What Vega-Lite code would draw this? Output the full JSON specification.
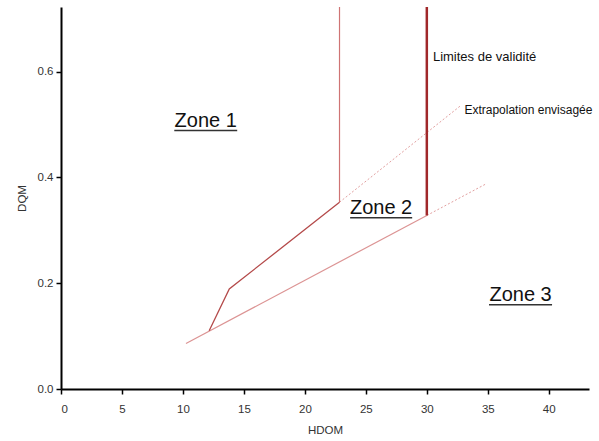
{
  "$schema": "https://vega.github.io/schema/vega-lite/v6.json",
  "width": 528,
  "height": 382,
  "padding": {"left": 61, "top": 7, "right": 10, "bottom": 52},
  "autosize": {"type": "none"},
  "background": "white",
  "config": {
    "view": {"stroke": null},
    "font": "Liberation Sans",
    "axis": {
      "grid": false,
      "domainColor": "#000",
      "domainWidth": 2,
      "tickColor": "#000",
      "tickWidth": 1.5,
      "tickSize": 5,
      "labelFont": "Liberation Sans",
      "labelFontSize": 11.5,
      "labelColor": "#333",
      "titleFont": "Liberation Sans",
      "titleFontSize": 11.5,
      "titleFontWeight": "normal",
      "titleColor": "#333"
    }
  },
  "datasets": {
    "lines": [
      {"series": "upper", "o": 1, "HDOM": 12.15, "DQM": 0.110},
      {"series": "upper", "o": 2, "HDOM": 13.8, "DQM": 0.189},
      {"series": "upper", "o": 3, "HDOM": 22.84, "DQM": 0.353},
      {"series": "vert1", "o": 1, "HDOM": 22.84, "DQM": 0.353},
      {"series": "vert1", "o": 2, "HDOM": 22.84, "DQM": 0.722},
      {"series": "lower", "o": 1, "HDOM": 10.25, "DQM": 0.086},
      {"series": "lower", "o": 2, "HDOM": 30.0, "DQM": 0.328},
      {"series": "limit", "o": 1, "HDOM": 30.0, "DQM": 0.328},
      {"series": "limit", "o": 2, "HDOM": 30.0, "DQM": 0.722},
      {"series": "ext_up", "o": 1, "HDOM": 22.84, "DQM": 0.353},
      {"series": "ext_up", "o": 2, "HDOM": 32.8, "DQM": 0.536},
      {"series": "ext_low", "o": 1, "HDOM": 30.0, "DQM": 0.328},
      {"series": "ext_low", "o": 2, "HDOM": 34.8, "DQM": 0.387}
    ],
    "zones": [
      {"label": "Zone 1", "HDOM": 11.87, "DQM": 0.496, "x1": 9.29, "x2": 14.45},
      {"label": "Zone 2", "HDOM": 26.25, "DQM": 0.331, "x1": 23.71, "x2": 28.8},
      {"label": "Zone 3", "HDOM": 37.69, "DQM": 0.167, "x1": 35.1, "x2": 40.27}
    ],
    "notes": [
      {"label": "Limites de validité", "HDOM": 30.5, "DQM": 0.619},
      {"label": "Extrapolation envisagée", "HDOM": 33.08, "DQM": 0.52}
    ],
    "frame": [{"HDOM": 43.3}]
  },
  "encoding": {
    "x": {"field": "HDOM", "type": "quantitative", "scale": {"domain": [0, 43.3], "nice": false, "zero": false},
      "axis": {"values": [0, 5, 10, 15, 20, 25, 30, 35, 40], "title": "HDOM", "labelPadding": 9, "titlePadding": 10}},
    "y": {"field": "DQM", "type": "quantitative", "scale": {"domain": [0, 0.722], "nice": false, "zero": false},
      "axis": {"values": [0, 0.2, 0.4, 0.6], "format": ".1f", "title": "DQM", "labelPadding": 3, "titlePadding": 10}}
  },
  "layer": [
    {
      "data": {"name": "frame"},
      "mark": {"type": "rule", "color": "#000", "strokeWidth": 2},
      "encoding": {"y": {"datum": 0}, "y2": {"datum": 0.722}}
    },
    {
      "data": {"name": "lines"},
      "transform": [{"filter": "datum.series === 'ext_up' || datum.series === 'ext_low'"}],
      "mark": {"type": "line", "color": "#e2a0a0", "strokeWidth": 1, "strokeDash": [2, 2]},
      "encoding": {"detail": {"field": "series"}, "order": {"field": "o"}}
    },
    {
      "data": {"name": "lines"},
      "transform": [{"filter": "datum.series === 'lower'"}],
      "mark": {"type": "line", "color": "#dc9494", "strokeWidth": 1.2},
      "encoding": {"order": {"field": "o"}}
    },
    {
      "data": {"name": "lines"},
      "transform": [{"filter": "datum.series === 'vert1'"}],
      "mark": {"type": "line", "color": "#cf7474", "strokeWidth": 1.2},
      "encoding": {"order": {"field": "o"}}
    },
    {
      "data": {"name": "lines"},
      "transform": [{"filter": "datum.series === 'upper'"}],
      "mark": {"type": "line", "color": "#b44a4a", "strokeWidth": 1.3},
      "encoding": {"order": {"field": "o"}}
    },
    {
      "data": {"name": "lines"},
      "transform": [{"filter": "datum.series === 'limit'"}],
      "mark": {"type": "line", "color": "#a0282a", "strokeWidth": 2.5},
      "encoding": {"order": {"field": "o"}}
    },
    {
      "data": {"name": "zones"},
      "mark": {"type": "text", "align": "center", "baseline": "alphabetic", "fontSize": 20, "color": "#111", "font": "Liberation Sans"},
      "encoding": {"text": {"field": "label"}}
    },
    {
      "data": {"name": "zones"},
      "mark": {"type": "rule", "color": "#333", "strokeWidth": 1.5, "yOffset": 4},
      "encoding": {"x": {"field": "x1", "type": "quantitative"}, "x2": {"field": "x2"}}
    },
    {
      "data": {"name": "notes"},
      "transform": [{"filter": "datum.label === 'Limites de validité'"}],
      "mark": {"type": "text", "align": "left", "baseline": "alphabetic", "fontSize": 13, "color": "#111", "font": "Liberation Sans", "clip": false},
      "encoding": {"text": {"field": "label"}}
    },
    {
      "data": {"name": "notes"},
      "transform": [{"filter": "datum.label === 'Extrapolation envisagée'"}],
      "mark": {"type": "text", "align": "left", "baseline": "alphabetic", "fontSize": 12, "color": "#111", "font": "Liberation Sans", "clip": false},
      "encoding": {"text": {"field": "label"}}
    }
  ]
}
